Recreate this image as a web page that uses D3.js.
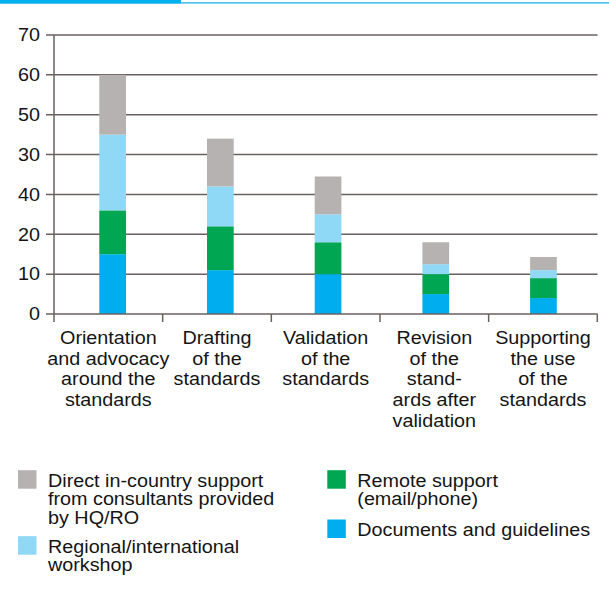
<!DOCTYPE html>
<html>
<head>
<meta charset="utf-8">
<script src="https://cdn.jsdelivr.net/npm/d3@7"></script>
<style>
    body { margin: 0; background: #fff; }
    text { font-family: "Liberation Sans", Arial, sans-serif; fill: #141414; }
</style>
</head>
<body>
<div id="chart"></div>
<script>
    const categories = ["Orientation", "Drafting", "Validation", "Revision", "Supporting"];
    const categoryLines = [
        ["Orientation", "and advocacy", "around the", "standards"],
        ["Drafting", "of the", "standards"],
        ["Validation", "of the", "standards"],
        ["Revision", "of the", "stand-", "ards after", "validation"],
        ["Supporting", "the use", "of the", "standards"]
    ];
    const docs = [15, 11, 10, 5, 4];
    const remote = [11, 11, 8, 5, 5];
    const regional = [19, 10, 7, 2.5, 2];
    const direct = [15, 12, 9.5, 5.5, 3.3];
    const tickValues = [0, 10, 20, 30, 40, 50, 60, 70];
    const tickLabels = ["0", "10", "20", "40", "30", "50", "60", "70"]; // como no original
    const seriesKeys = ["docs", "remote", "regional", "direct"];
    const seriesColors = ["#00aeef", "#00a651", "#8fd8f6", "#b6b2b1"];
    const legendLeft = [
        { key: "direct", lines: ["Direct in-country support", "from consultants provided", "by HQ/RO"] },
        { key: "regional", lines: ["Regional/international", "workshop"] }
    ];
    const legendRight = [
        { key: "remote", lines: ["Remote support", "(email/phone)"] },
        { key: "docs", lines: ["Documents and guidelines"] }
    ];

    const W = 609, H = 593;
    const sx = 1.13; // fonte esticada na horizontal
    const fs = 17.5;
    const gridColor = "#6b6060";

    const svg = d3.select("#chart").append("svg")
        .attr("width", W).attr("height", H);

    // faixa azul no topo
    svg.append("rect").attr("x", 0).attr("y", 0).attr("width", 181).attr("height", 3.7).attr("fill", "#00aeef");
    svg.append("rect").attr("x", 181).attr("y", 2).attr("width", W - 181).attr("height", 1.7).attr("fill", "#4cc3f1");

    const rows = categories.map((c, i) => ({
        cat: c, docs: docs[i], remote: remote[i], regional: regional[i], direct: direct[i]
    }));

    const y = d3.scaleLinear().domain([0, 70]).range([314, 35]);
    const x = d3.scaleBand().domain(categories).range([54, 597.3]);
    const xBar = d3.scaleBand().domain(categories).range([58.8, 597.3])
        .paddingInner(0.752).paddingOuter(0.376);
    const color = d3.scaleOrdinal().domain(seriesKeys).range(seriesColors);

    function addText(g, tx, ty, str, anchor) {
        return g.append("text")
            .attr("transform", `translate(${tx},${ty}) scale(${sx},1)`)
            .attr("text-anchor", anchor || "start")
            .style("font-size", fs + "px")
            .text(str);
    }

    // linhas de grade + rótulos do eixo Y
    const grid = svg.append("g");
    tickValues.forEach((v, i) => {
        if (v > 0) {
            grid.append("line")
                .attr("x1", 46).attr("x2", 597.5)
                .attr("y1", y(v)).attr("y2", y(v))
                .attr("stroke", gridColor).attr("stroke-width", 1.5);
        }
        addText(grid, 40, y(v) + 6.3, tickLabels[i], "end");
    });

    // barras empilhadas
    const stacked = d3.stack().keys(seriesKeys)(rows);
    svg.append("g")
        .selectAll("g")
        .data(stacked)
        .enter()
        .append("g")
        .attr("fill", d => color(d.key))
        .selectAll("rect")
        .data(d => d)
        .enter()
        .append("rect")
        .attr("x", d => xBar(d.data.cat))
        .attr("y", d => y(d[1]))
        .attr("width", xBar.bandwidth())
        .attr("height", d => y(d[0]) - y(d[1]));

    // eixo Y
    svg.append("line")
        .attr("x1", 54).attr("x2", 54).attr("y1", y(70)).attr("y2", 314)
        .attr("stroke", gridColor).attr("stroke-width", 1.5);

    // eixo X
    const xAxis = svg.append("g");
    xAxis.append("line")
        .attr("x1", 46).attr("x2", 597.5).attr("y1", 314).attr("y2", 314)
        .attr("stroke", gridColor).attr("stroke-width", 1.5);
    const edges = categories.map(c => x(c)).concat([x.range()[1]]);
    edges.forEach(e => {
        xAxis.append("line")
            .attr("x1", e).attr("x2", e).attr("y1", 314).attr("y2", 322)
            .attr("stroke", gridColor).attr("stroke-width", 1.5);
    });
    categories.forEach((c, i) => {
        const cx = x(c) + x.bandwidth() / 2;
        categoryLines[i].forEach((line, j) => {
            addText(xAxis, cx, 344 + j * 20.7, line, "middle");
        });
    });

    // legenda
    function drawLegend(items, lx, tops, spacing) {
        const g = svg.append("g");
        items.forEach((item, i) => {
            const base = tops[i];
            g.append("rect")
                .attr("x", lx).attr("y", base - 16.5)
                .attr("width", 18.5).attr("height", 18.5)
                .attr("fill", color(item.key));
            item.lines.forEach((line, j) => {
                addText(g, lx + 30, base + j * spacing, line, "start");
            });
        });
    }
    drawLegend(legendLeft, 18, [486.7, 552.7], 18.5);
    drawLegend(legendRight, 327.3, [486.7, 536], 18.5);
</script>
</body>
</html>
